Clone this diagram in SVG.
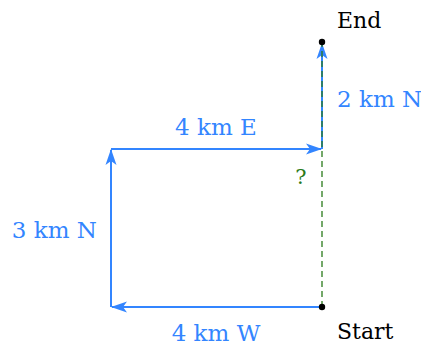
<svg xmlns="http://www.w3.org/2000/svg" width="421" height="347" viewBox="0 0 421 347">
<style>
.v{stroke:#3385ff;stroke-width:2;fill:none;marker-end:url(#ah)}
.lb{font-family:"DejaVu Serif","Liberation Serif",serif;font-size:23px;fill:#3385ff}
.bk{font-family:"DejaVu Serif","Liberation Serif",serif;font-size:22px;fill:#000}
</style>
<defs>
<marker id="ah" markerWidth="16" markerHeight="12" refX="15" refY="6" orient="auto" markerUnits="userSpaceOnUse">
<path d="M0,0.5 L16,6 L0,11.5 L4,6 Z" fill="#3385ff"/>
</marker>
</defs>
<rect width="421" height="347" fill="#fff"/>
<g id="connectors">
<line class="v" x1="322" y1="307" x2="112" y2="307"/>
<line class="v" x1="111" y1="307" x2="111" y2="150"/>
<line class="v" x1="111" y1="149" x2="321" y2="149"/>
<line class="v" x1="322" y1="149" x2="322" y2="44"/>
<line x1="322" y1="307" x2="322" y2="42" stroke="#2a7a1a" stroke-width="1.3" stroke-dasharray="6,4"/>
</g>
<g id="start"><circle cx="322" cy="307" r="3.2" fill="#000"/><text class="bk" x="337" y="339">Start</text></g>
<g id="end"><circle cx="322" cy="42" r="3.2" fill="#000"/><text class="bk" x="337" y="28">End</text></g>
<g id="labels">
<text class="lb" x="216" y="341" text-anchor="middle">4 km W</text>
<text class="lb" x="97" y="238" text-anchor="end">3 km N</text>
<text class="lb" x="216" y="135" text-anchor="middle">4 km E</text>
<text class="lb" x="337" y="107">2 km N</text>
<text x="301" y="184" text-anchor="middle" font-family="DejaVu Serif,serif" font-size="21" fill="#2a7a1a">?</text>
</g>
</svg>
